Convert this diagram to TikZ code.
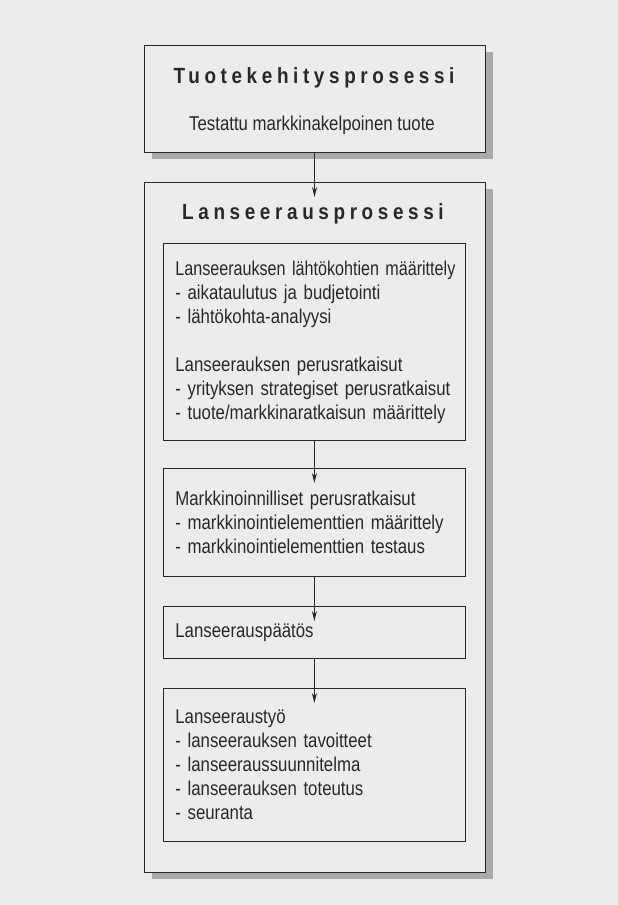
\documentclass[tikz,border=0pt]{standalone}
\usepackage{graphicx}
\usepackage{fontspec}
\setmainfont[FakeStretch=0.84]{Liberation Sans}
\newfontfamily\titlefont[FakeStretch=0.86,LetterSpace=21]{Liberation Sans}
\usetikzlibrary{arrows.meta,shadows}
\definecolor{paper}{RGB}{236,236,236}
\definecolor{shade}{RGB}{170,170,170}
\definecolor{ink}{RGB}{40,40,40}
\begin{document}
\begin{tikzpicture}[x=1pt,y=-1pt,
  outer/.style={draw=ink, line width=1.1pt, fill=paper, anchor=north west, inner sep=0pt,
    drop shadow={shadow xshift=8pt, shadow yshift=-6pt, fill=shade, opacity=1}},
  innerbox/.style={draw=ink, line width=0.8pt, anchor=north west, minimum width=302pt,
    text width=290pt, inner xsep=6pt, align=left, text=ink,
    font=\fontsize{20}{24}\selectfont, execute at begin node={\leftskip=6pt\hyphenpenalty=10000}},
  ttl/.style={anchor=base, text=ink, font=\titlefont\bfseries\fontsize{22}{26}\selectfont},
  sub/.style={anchor=base, text=ink, font=\fontsize{20}{24}\selectfont},
  arr/.style={draw=ink, line width=0.8pt, -{Stealth[length=10pt,width=5pt]}},
]
\fill[paper] (0,0) rectangle (618,905);
\useasboundingbox (0,0) rectangle (618,905);

\node[outer, minimum width=341pt, minimum height=107pt] (tk) at (143.5,45) {};
\node[ttl] (tkt) at (314,83) {Tuotekehitysprosessi};
\node[sub] (tks) at (312,130) {Testattu markkinakelpoinen tuote};

\node[outer, minimum width=341pt, minimum height=690pt] (lp) at (143.5,182) {};
\node[ttl] (lpt) at (313,219) {Lanseerausprosessi};

\node[innerbox, minimum height=197pt] (b1) at (163,243) {\scalebox{0.96}[1]{Lanseerauksen lähtökohtien määrittely}\\
- aikataulutus ja budjetointi\\
- lähtökohta-analyysi\\[24pt]
Lanseerauksen perusratkaisut\\
- yrityksen strategiset perusratkaisut\\
- tuote/markkinaratkaisun määrittely};

\node[innerbox, minimum height=108pt] (b2) at (163,468) {Markkinoinnilliset perusratkaisut\\
- markkinointielementtien määrittely\\
- markkinointielementtien testaus};

\node[innerbox, minimum height=52pt] (b3) at (163,606) {Lanseerauspäätös};

\node[innerbox, minimum height=153pt] (b4) at (163,688) {Lanseeraustyö\\
- lanseerauksen tavoitteet\\
- lanseeraussuunnitelma\\
- lanseerauksen toteutus\\
- seuranta};

\draw[arr] (tk.south) -- ([yshift=-15pt]lp.north);
\draw[arr] (b1.south) -- ([yshift=-15pt]b2.north);
\draw[arr] (b2.south) -- ([yshift=-15pt]b3.north);
\draw[arr] (b3.south) -- ([yshift=-15pt]b4.north);
\end{tikzpicture}
\end{document}
